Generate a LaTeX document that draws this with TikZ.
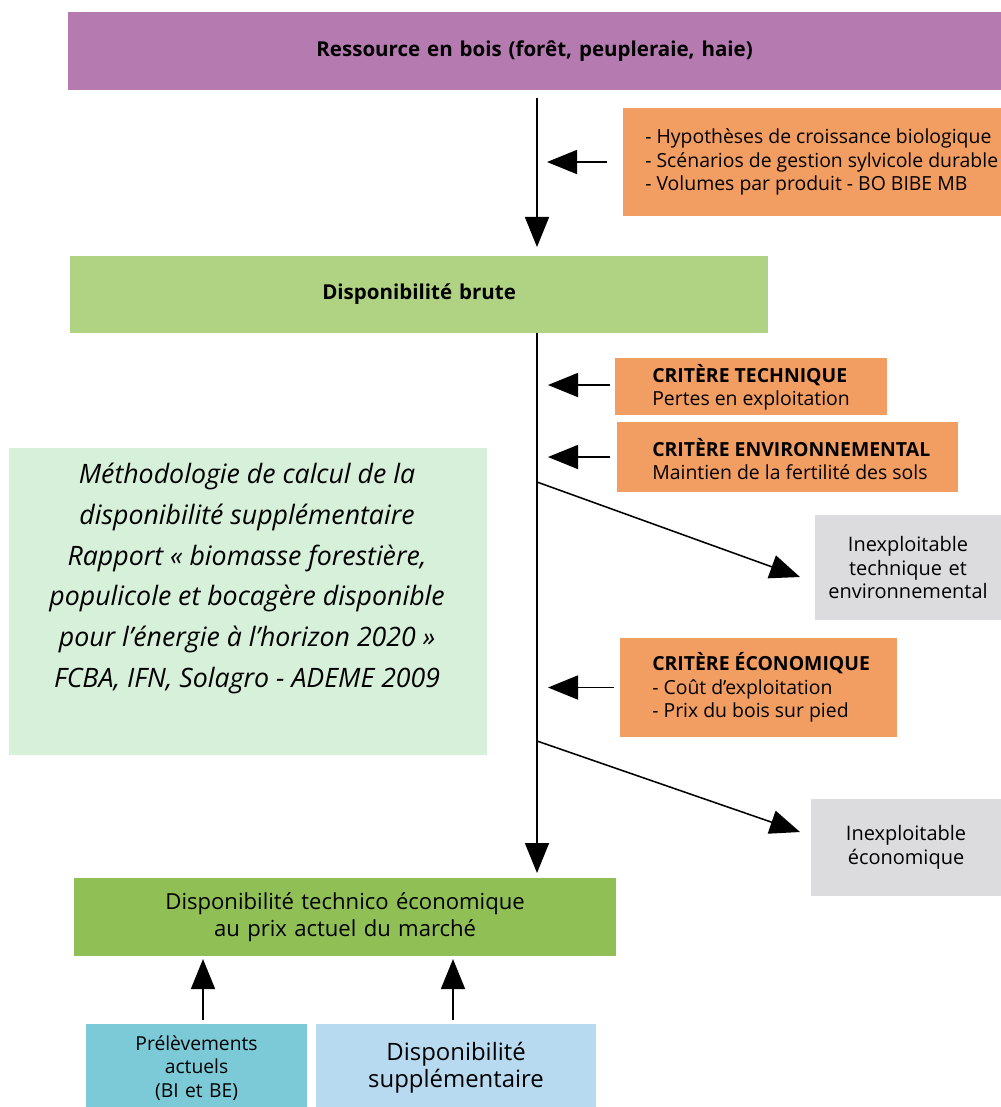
\documentclass[tikz,border=0pt]{standalone}
\usepackage{fontspec}
\setmainfont{Open Sans}
\usetikzlibrary{arrows.meta}
\definecolor{boispurple}{HTML}{B57AB0}
\definecolor{critorange}{HTML}{F29D62}
\definecolor{brutegreen}{HTML}{B0D283}
\definecolor{ecogreen}{HTML}{8FBF55}
\definecolor{inexgray}{HTML}{DCDCDE}
\definecolor{methogreen}{HTML}{D7F0DA}
\definecolor{prelcyan}{HTML}{7CCAD7}
\definecolor{suppblue}{HTML}{B8DAF0}
\begin{document}
\begin{tikzpicture}[
        x=0.025cm, y=-0.025cm,
        box/.style={rectangle, fill=#1, inner sep=0pt, outer sep=0pt,
            anchor=north west, align=center,
            font=\fontsize{14.6}{18.5}\selectfont},
        box/.default=critorange,
        crit/.style={inner sep=0pt, anchor=west, align=left,
            font=\fontsize{13.8}{16.7}\selectfont},
        flow/.style={-{Triangle[length=0.75cm,width=0.6cm]}, line width=1.1pt}
    ]
        \useasboundingbox (0,0) rectangle (1001,1107);
        \coordinate (trunk) at (537,0);
        % main chain
        \node[box=boispurple, minimum width=23.325cm, minimum height=1.95cm,
            text width=23.325cm] (res) at (68,12)
            {\bfseries Ressource en bois (forêt, peupleraie, haie)};
        \node[box=brutegreen, minimum width=17.45cm, minimum height=1.925cm,
            text width=17.45cm] (brute) at (70,256) {\bfseries Disponibilité brute};
        \node[box=ecogreen, minimum width=13.55cm, minimum height=1.95cm,
            text width=13.55cm, font=\fontsize{15.7}{18.8}\selectfont] (techeco) at (74,878)
            {Disponibilité technico économique\\au prix actuel du marché};
        % criteria
        \node[box, minimum width=9.45cm, minimum height=2.7cm] (hyp) at (623,108) {};
        \node[crit] (hyptxt) at ([xshift=0.55cm]hyp.west)
            {- Hypothèses de croissance biologique\\
             - Scénarios de gestion sylvicole durable\\
             - Volumes par produit - BO BIBE MB};
        \node[box, minimum width=6.8cm, minimum height=1.425cm] (tech) at (615,358) {};
        \node[crit] (techtxt) at ([xshift=0.925cm, yshift=-0.025cm]tech.west)
            {\bfseries CRITÈRE TECHNIQUE\\Pertes en exploitation};
        \node[box, minimum width=8.525cm, minimum height=1.75cm] (env) at (617,422) {};
        \node[crit] (envtxt) at ([xshift=0.875cm, yshift=-0.05cm]env.west)
            {\bfseries CRITÈRE ENVIRONNEMENTAL\\Maintien de la fertilité des sols};
        \node[box, minimum width=6.925cm, minimum height=2.475cm] (eco) at (620,638) {};
        \node[crit] (ecotxt) at ([xshift=0.8cm]eco.west)
            {\bfseries CRITÈRE ÉCONOMIQUE\\- Coût d'exploitation\\- Prix du bois sur pied};
        % losses
        \node[box=inexgray, minimum width=4.65cm, minimum height=2.625cm,
            text width=4.65cm, font=\fontsize{14.2}{16.4}\selectfont] (inex1) at (815,515)
            {Inexploitable\\technique et\\environnemental};
        \node[box=inexgray, minimum width=4.75cm, minimum height=2.425cm,
            text width=4.75cm, font=\fontsize{14.2}{16.9}\selectfont] (inex2) at (811,799)
            {Inexploitable\\économique};
        % method note
        \node[box=methogreen, minimum width=11.95cm, minimum height=7.675cm] (metho) at (9,448) {};
        \node[align=center, inner sep=0pt, font=\fontsize{19}{29}\selectfont\itshape]
            (methotxt) at ([xshift=-0.025cm, yshift=0.575cm]metho.center)
            {Méthodologie de calcul de la\\
             disponibilité supplémentaire\\
             Rapport « biomasse forestière,\\
             populicole et bocagère disponible\\
             pour l’énergie à l’horizon 2020 »\\
             FCBA, IFN, Solagro - ADEME 2009};
        % sources
        \node[box=prelcyan, minimum width=5.525cm, minimum height=2.2cm,
            text width=5.525cm, font=\fontsize{13.7}{16.7}\selectfont] (prel) at (86,1024)
            {Prélèvements\\actuels\\(BI et BE)};
        \node[box=suppblue, minimum width=7cm, minimum height=2.2cm,
            text width=7cm, font=\fontsize{17}{19.2}\selectfont] (supp) at (316,1024)
            {Disponibilité\\supplémentaire};
        % connectors
        \draw[flow, shorten <=0.2cm, shorten >=0.225cm] (res.south -| trunk) -- (brute.north -| trunk);
        \draw[flow, shorten >=0.125cm] (brute.south -| trunk) -- (techeco.north -| trunk);
        \draw[flow, shorten <=0.4cm, shorten >=0.25cm] (hyp.west) -- (hyp.west -| trunk);
        \draw[flow, shorten <=0.125cm, shorten >=0.275cm] ([yshift=0.0375cm]tech.west) -- ([yshift=0.0375cm]tech.west -| trunk);
        \draw[flow, shorten <=0.175cm, shorten >=0.275cm] (env.west) -- (env.west -| trunk);
        \draw[flow, shorten <=0.15cm, shorten >=0.275cm] (eco.west) -- (eco.west -| trunk);
        \coordinate (split1) at (537,482);
        \coordinate (split2) at (537,741);
        \draw[flow] (split1) -- ([xshift=-0.375cm, yshift=-0.2375cm]inex1.west);
        \draw[flow] (split2) -- ([xshift=-0.275cm, yshift=0.3875cm]inex2.west);
        \coordinate (up1) at (203,1020);
        \coordinate (up2) at (453,1020);
        \draw[flow, shorten >=0.075cm] (up1) -- (up1 |- techeco.south);
        \draw[flow, shorten >=0.075cm] (up2) -- (up2 |- techeco.south);
    \end{tikzpicture}
\end{document}
